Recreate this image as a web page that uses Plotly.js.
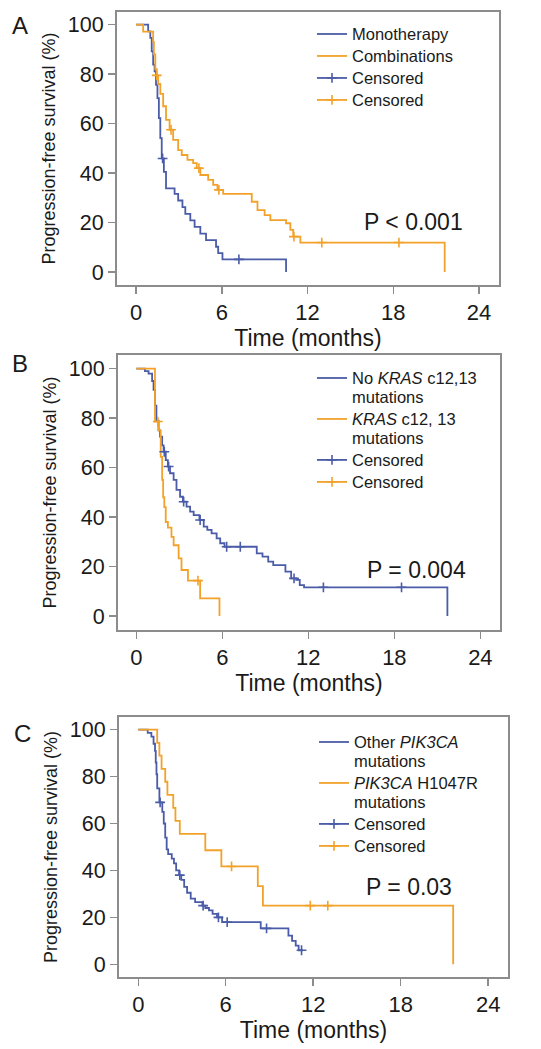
<!DOCTYPE html>
<html>
<head>
<meta charset="utf-8">
<script src="https://cdn.plot.ly/plotly-3.0.1.min.js"></script>
<style>html,body{margin:0;padding:0;background:#fff;}#chart{width:541px;height:1049px;}</style>
</head>
<body>
<div id="chart"></div>
<script>
// ---------- Panel A ----------
var A_mono_t = [0, 0.85, 1.0, 1.1, 1.2, 1.3, 1.4, 1.5, 1.6, 1.7, 1.8, 1.95, 2.1, 2.7, 2.95, 3.25, 3.45, 3.8, 4.1, 4.5, 4.9, 5.6, 5.75, 6.05, 10.5];
var A_mono_s = [100, 97.3, 94.6, 89.2, 83.8, 81.1, 75.7, 70.3, 62.2, 54.1, 45.9, 40.5, 33.8, 31.6, 28.9, 26.2, 23.5, 20.9, 18.2, 15.5, 12.9, 10.2, 7.6, 5.1, 0];
var A_mono_cens_t = [1.86, 7.2];
var A_mono_cens_s = [45.9, 5.1];
var A_comb_t = [0, 0.5, 1.2, 1.25, 1.35, 1.45, 1.55, 1.7, 1.9, 2.1, 2.35, 2.6, 2.95, 3.2, 3.6, 4.0, 4.25, 4.5, 5.05, 5.4, 5.7, 6.1, 8.1, 8.5, 9.0, 9.4, 10.5, 10.8, 11.0, 11.5, 21.6];
var A_comb_s = [100, 97.2, 93, 88, 82, 79.5, 76, 72, 67, 61.5, 57.5, 53.4, 49.3, 47.3, 45.3, 44, 42, 39.2, 37.2, 35.2, 33.2, 31.6, 28.4, 25, 23, 21, 19.7, 17, 14.3, 11.9, 0];
var A_comb_cens_t = [1.45, 2.45, 4.4, 5.8, 11.05, 13.0, 18.4];
var A_comb_cens_s = [79.5, 57.5, 42, 33.2, 14.3, 11.9, 11.9];
var A_labels = ['Monotherapy', 'Combinations', 'Censored', 'Censored'];
var A_pvalue = 'P < 0.001';

// ---------- Panel B ----------
var B_nokras_t = [0, 0.6, 0.85, 1.1, 1.2, 1.3, 1.4, 1.55, 1.65, 1.8, 1.9, 2.05, 2.2, 2.35, 2.6, 2.8, 3.05, 3.25, 3.5, 3.75, 4.0, 4.4, 4.7, 4.95, 5.25, 5.6, 5.85, 6.15, 8.4, 8.8, 9.2, 9.55, 10.4, 10.8, 11.15, 11.4, 11.7, 21.7];
var B_nokras_s = [100, 99, 98, 95, 91.4, 85, 79, 75, 72.5, 69, 66.4, 63, 60.4, 57.7, 55, 51, 48.2, 46.2, 44.2, 42.2, 40.8, 38.8, 36.1, 34.8, 33.4, 31.4, 29.4, 28, 25.3, 24, 22, 20.6, 17.9, 15.2, 14.6, 12.5, 11.6, 0];
var B_nokras_cens_t = [1.95, 2.25, 3.3, 4.45, 6.3, 7.25, 11.0, 13.05, 18.5];
var B_nokras_cens_s = [66.4, 60.4, 46.2, 38.8, 28, 28, 15.2, 11.6, 11.6];
var B_kras_t = [0, 1.3, 1.55, 1.7, 1.8, 1.87, 1.95, 2.05, 2.2, 2.45, 2.6, 2.95, 3.15, 3.6, 4.45, 5.8];
var B_kras_s = [100, 78.6, 75, 64.3, 55, 48, 44, 38, 35.7, 32, 28.6, 23.3, 18.6, 14.3, 7.1, 0];
var B_kras_cens_t = [1.5, 4.3];
var B_kras_cens_s = [78.6, 14.3];
var B_labels = ['No <i>KRAS</i> c12,13<br>mutations', '<i>KRAS</i> c12, 13<br>mutations', 'Censored', 'Censored'];
var B_pvalue = 'P = 0.004';

// ---------- Panel C ----------
var C_other_t = [0, 0.65, 0.9, 1.05, 1.15, 1.2, 1.25, 1.3, 1.45, 1.65, 1.75, 1.85, 1.95, 2.05, 2.3, 2.45, 2.6, 2.8, 2.95, 3.15, 3.35, 3.6, 3.9, 4.4, 4.6, 4.85, 5.1, 5.4, 5.75, 8.4, 10.3, 10.55, 10.8, 11.0, 11.3];
var C_other_s = [100, 98.6, 97, 94, 91, 86, 81, 75, 69, 65, 60, 54, 49, 47, 45, 43, 40, 38, 36, 33, 30.5, 28, 26.5, 25, 24, 23, 21.5, 20, 18, 15.3, 12.2, 10, 8, 6, 6];
var C_other_cens_t = [1.5, 2.85, 4.45, 5.5, 6.1, 8.8, 11.2];
var C_other_cens_s = [69, 38, 25, 20, 18, 15.3, 6];
var C_h1047r_t = [0, 1.3, 1.45, 1.6, 1.85, 2.0, 2.4, 2.55, 2.85, 4.6, 5.7, 8.2, 8.55, 21.6];
var C_h1047r_s = [100, 94.4, 88.9, 83.3, 77.8, 72.2, 66.7, 61.1, 55.6, 48.6, 41.7, 33.3, 25, 0];
var C_h1047r_cens_t = [6.4, 11.8, 13.0];
var C_h1047r_cens_s = [41.7, 25, 25];
var C_labels = ['Other <i>PIK3CA</i><br>mutations', '<i>PIK3CA</i> H1047R<br>mutations', 'Censored', 'Censored'];
var C_pvalue = 'P = 0.03';

var xTicks = [0, 6, 12, 18, 24];
var yTicks = [0, 20, 40, 60, 80, 100];

// ---------- styling ----------
var BLUE = '#4a5ca8', ORANGE = '#f2a22a';
var FONT = 'Liberation Sans, Arial, Helvetica, sans-serif';
var W = 541, H = 1049;

function big(s) {
  return s.split('<br>').map(function (p) { return '<span style="font-size:16.5px">' + p + '</span>'; }).join('<br>');
}
function gaps(a) { // interleave nulls so censor points are not joined
  var out = [];
  a.forEach(function (v, i) { if (i) out.push(null); out.push(v); });
  return out;
}
function curve(t, s, color, name, xa, ya, lg) {
  return {x: t, y: s, type: 'scatter', mode: 'lines', line: {shape: 'hv', color: color, width: 1.8},
          name: big(name), xaxis: xa, yaxis: ya, legend: lg, hoverinfo: 'skip'};
}
function cens(t, s, color, name, xa, ya, lg) {
  return {x: gaps(t), y: gaps(s), type: 'scatter', mode: 'lines+markers', connectgaps: false,
          line: {color: color, width: 1.8},
          marker: {symbol: 'cross-thin', size: 7, color: color, line: {color: color, width: 1.6}},
          name: big(name), xaxis: xa, yaxis: ya, legend: lg, hoverinfo: 'skip'};
}

var traces = [
  curve(A_mono_t, A_mono_s, BLUE, A_labels[0], 'x', 'y', 'legend'),
  curve(A_comb_t, A_comb_s, ORANGE, A_labels[1], 'x', 'y', 'legend'),
  cens(A_mono_cens_t, A_mono_cens_s, BLUE, A_labels[2], 'x', 'y', 'legend'),
  cens(A_comb_cens_t, A_comb_cens_s, ORANGE, A_labels[3], 'x', 'y', 'legend'),
  curve(B_nokras_t, B_nokras_s, BLUE, B_labels[0], 'x2', 'y2', 'legend2'),
  curve(B_kras_t, B_kras_s, ORANGE, B_labels[1], 'x2', 'y2', 'legend2'),
  cens(B_nokras_cens_t, B_nokras_cens_s, BLUE, B_labels[2], 'x2', 'y2', 'legend2'),
  cens(B_kras_cens_t, B_kras_cens_s, ORANGE, B_labels[3], 'x2', 'y2', 'legend2'),
  curve(C_other_t, C_other_s, BLUE, C_labels[0], 'x3', 'y3', 'legend3'),
  curve(C_h1047r_t, C_h1047r_s, ORANGE, C_labels[1], 'x3', 'y3', 'legend3'),
  cens(C_other_cens_t, C_other_cens_s, BLUE, C_labels[2], 'x3', 'y3', 'legend3'),
  cens(C_h1047r_cens_t, C_h1047r_cens_s, ORANGE, C_labels[3], 'x3', 'y3', 'legend3')
];

function px(x) { return x / W; }
function py(y) { return 1 - y / H; }

function xaxis(d, r, anchor) {
  return {domain: d, range: r, anchor: anchor, tickvals: xTicks, ticktext: xTicks.map(String),
          ticks: 'outside', ticklen: 7, tickwidth: 1.5, tickcolor: '#8c8c8c',
          showline: true, linecolor: '#8c8c8c', linewidth: 2, mirror: true,
          showgrid: false, zeroline: false, fixedrange: true,
          tickfont: {family: FONT, size: 22, color: '#1a1a1a'},
          title: {text: 'Time (months)', font: {family: FONT, size: 23, color: '#1a1a1a'}, standoff: 0}};
}
function yaxis(d, r, anchor) {
  return {domain: d, range: r, anchor: anchor, tickvals: yTicks, ticktext: yTicks.map(String),
          ticks: 'outside', ticklen: 7, tickwidth: 1.5, tickcolor: '#8c8c8c',
          showline: true, linecolor: '#8c8c8c', linewidth: 2, mirror: true,
          showgrid: false, zeroline: false, fixedrange: true,
          tickfont: {family: FONT, size: 21.5, color: '#1a1a1a'},
          title: {text: 'Progression-free survival (%)', font: {family: FONT, size: 18, color: '#1a1a1a'}, standoff: 8}};
}
function legend(x, y) {
  return {x: px(x), y: py(y), xanchor: 'left', yanchor: 'top', bgcolor: 'rgba(0,0,0,0)',
          borderwidth: 0, valign: 'top', itemwidth: 30, tracegroupgap: 0,
          font: {family: FONT, size: 14.6, color: '#1a1a1a'}};
}
function note(text, x, y, size) {
  return {text: text, xref: 'paper', yref: 'paper', x: px(x), y: py(y), xanchor: 'center', yanchor: 'middle',
          showarrow: false, font: {family: FONT, size: size, color: '#1a1a1a'}};
}

var layout = {
  width: W, height: H, margin: {l: 0, r: 0, t: 0, b: 0},
  paper_bgcolor: '#ffffff', plot_bgcolor: '#ffffff', showlegend: true,
  font: {family: FONT},
  xaxis: xaxis([px(117), px(499)], [-1.33, 25.4], 'y'),
  yaxis: yaxis([py(285), py(12)], [-5.26, 105.1], 'x'),
  xaxis2: xaxis([px(118), px(500)], [-1.28, 25.37], 'y2'),
  yaxis2: yaxis([py(630), py(355)], [-5.66, 105.5], 'x2'),
  xaxis3: xaxis([px(119), px(508)], [-1.32, 25.36], 'y3'),
  yaxis3: yaxis([py(977), py(717)], [-5.41, 105.4], 'x3'),
  legend: legend(312, 18),
  legend2: legend(312, 362),
  legend3: legend(314, 726),
  annotations: [
    note('A', 20, 25, 24), note('B', 20, 363, 24), note('C', 22, 733, 24),
    note(A_pvalue, 413, 222, 23), note(B_pvalue, 416, 570, 23), note(C_pvalue, 409, 887, 23)
  ]
};

Plotly.newPlot('chart', traces, layout, {displayModeBar: false, staticPlot: true});
</script>
</body>
</html>
